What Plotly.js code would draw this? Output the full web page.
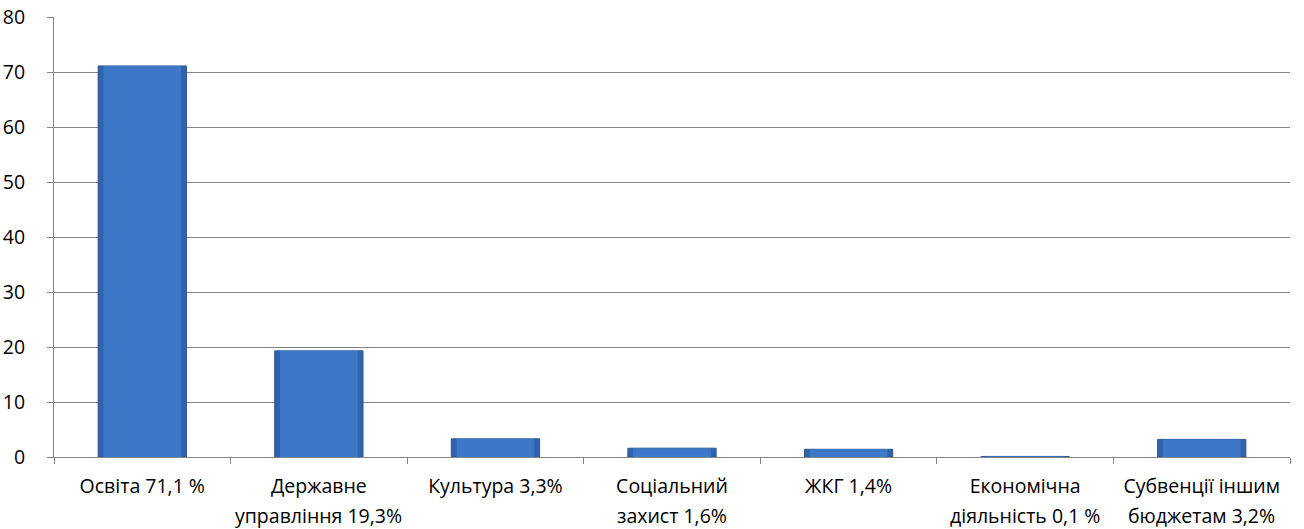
<!DOCTYPE html>
<html><head><meta charset="utf-8">
<script src="https://cdn.plot.ly/plotly-3.0.1.min.js"></script>
<style>html,body{margin:0;padding:0;background:#fff}#chart{width:1304px;height:529px}</style>
</head><body><div id="chart"></div>
<script>
const labelLine1 = ["Освіта 71,1 %", "Державне", "Культура 3,3%", "Соціальний", "ЖКГ 1,4%", "Економічна", "Субвенції іншим"];
const labelLine2 = ["", "управління 19,3%", "", "захист 1,6%", "", "діяльність 0,1 %", "бюджетам 3,2%"];
const categories = labelLine1.map((a, i) => (a + " " + labelLine2[i]).trim());
const values = [71.1, 19.3, 3.3, 1.6, 1.4, 0.1, 3.2];
const yTicks = [0, 10, 20, 30, 40, 50, 60, 70, 80];

const font = {family: "'Open Sans', 'Noto Sans', sans-serif", size: 19.5, color: "#000"};
const annotations = categories.map((c, i) => ({
  x: c, xref: "x", y: 0, yref: "paper", yanchor: "middle", yshift: -58,
  text: labelLine2[i], showarrow: false, font: font, borderpad: 0
})).filter(a => a.text);

Plotly.newPlot("chart", [
  {type: "bar", x: categories, y: values, width: 0.5,
   marker: {color: "#3063ab", line: {color: "#2a5794", width: 1}}, hoverinfo: "none"},
  {type: "bar", x: categories, y: values, width: 0.44,
   marker: {color: "#3c78c7", line: {width: 0}}, hoverinfo: "none"}
], {
  width: 1304, height: 529,
  margin: {l: 54, r: 14, t: 17, b: 72},
  paper_bgcolor: "#fff", plot_bgcolor: "#fff",
  font: font, showlegend: false, barmode: "overlay",
  annotations: annotations,
  xaxis: {type: "category", showgrid: false, showline: true, linecolor: "#868686", linewidth: 1,
    tickvals: categories, ticktext: labelLine1, ticklabelstandoff: 12,
    ticks: "outside", tickson: "boundaries", ticklen: 6, tickcolor: "#868686", tickfont: font, zeroline: false},
  yaxis: {range: [0, 80], tickvals: yTicks, ticktext: yTicks.map(String), showgrid: true, gridcolor: "#868686", gridwidth: 1,
    showline: true, linecolor: "#868686", ticks: "outside", ticklen: 6, tickcolor: "#868686", tickfont: font,
    ticklabelstandoff: 18, zeroline: false}
}, {displayModeBar: false, staticPlot: true});
</script></body></html>
